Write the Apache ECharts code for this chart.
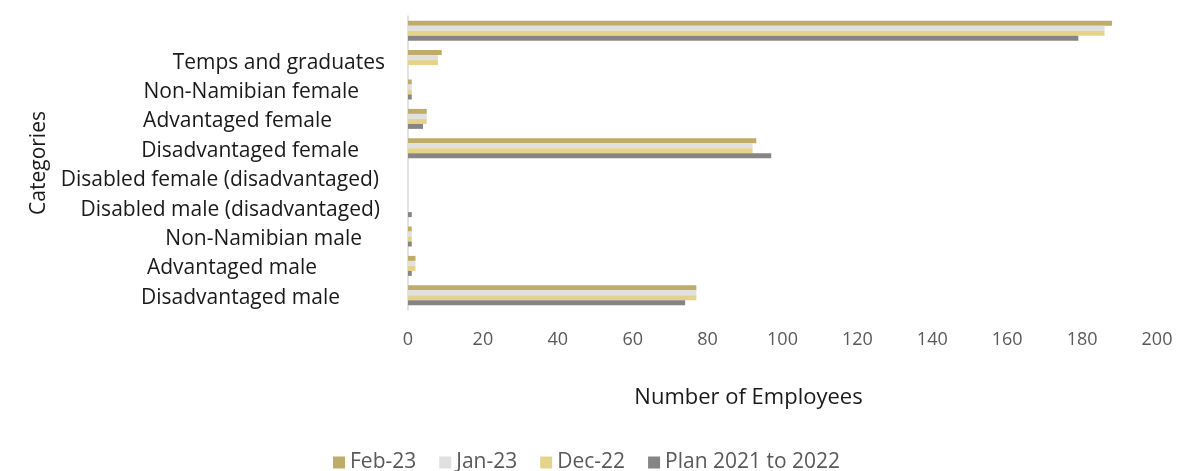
<!DOCTYPE html>
<html>
<head>
<meta charset="utf-8">
<title>Employees by category</title>
<script src="https://cdn.jsdelivr.net/npm/echarts@6/dist/echarts.min.js"></script>
<style>
  html, body { margin: 0; padding: 0; background: #fff; }
  #chart { width: 1177px; height: 471px; }
</style>
</head>
<body>
<div id="chart"></div>
<script>
// Categories, bottom to top (the top row is the overall total, unlabelled)
const categories = [
  'Disadvantaged male',
  'Advantaged male',
  'Non-Namibian male',
  'Disabled male (disadvantaged)',
  'Disabled female (disadvantaged)',
  'Disadvantaged female',
  'Advantaged female',
  'Non-Namibian female',
  'Temps and graduates',
  ''
];

const feb23 = [77, 2, 1, 0, 0, 93, 5, 1, 9, 188];
const jan23 = [77, 2, 1, 0, 0, 92, 5, 1, 8, 186];
const dec22 = [77, 2, 1, 0, 0, 92, 5, 1, 8, 186];
const plan  = [74, 1, 1, 1, 0, 97, 4, 1, 0, 179];

const xTicks = { min: 0, max: 200, interval: 20 };

// Right-hand gap between each category label and the axis line
const labelInset = [68, 91, 46, 28, 29, 49, 76, 49, 23, 0];

const FONT = '"Open Sans", sans-serif';
const colors = {
  feb: '#BEAC68',
  jan: '#E0E0E0',
  dec: '#E6D38B',
  plan: '#878484'
};

const rich = {};
labelInset.forEach((gap, i) => {
  rich['l' + i] = {
    padding: [5, gap, 0, 0],
    fontFamily: FONT,
    fontSize: 21,
    color: '#1a1a1a'
  };
});

const chart = echarts.init(document.getElementById('chart'), null, { renderer: 'canvas' });

const barSeries = (name, data, color) => ({
  name,
  type: 'bar',
  data,
  itemStyle: { color },
  barGap: '0%',
  barCategoryGap: '32%',
  emphasis: { disabled: true }
});

chart.setOption({
  animation: false,
  textStyle: { fontFamily: FONT },
  grid: { left: 408, right: 20, top: 16, bottom: 161, containLabel: false },
  legend: {
    data: ['Feb-23', 'Jan-23', 'Dec-22', 'Plan 2021 to 2022'],
    left: 328,
    top: 447,
    icon: 'rect',
    itemWidth: 12,
    itemHeight: 12,
    itemGap: 23,
    textStyle: { fontFamily: FONT, fontSize: 21, color: '#595959' }
  },
  xAxis: {
    type: 'value',
    min: xTicks.min,
    max: xTicks.max,
    interval: xTicks.interval,
    name: 'Number of Employees',
    nameLocation: 'middle',
    nameGap: 77,
    nameTextStyle: { fontFamily: FONT, fontSize: 22, color: '#1a1a1a', padding: [0, 68, 0, 0] },
    axisLine: { show: false },
    axisTick: { show: false },
    splitLine: { show: false },
    axisLabel: { margin: 21, fontFamily: FONT, fontSize: 18, color: '#595959' }
  },
  yAxis: {
    type: 'category',
    data: categories,
    name: 'Categories',
    nameLocation: 'middle',
    nameGap: 358,
    nameRotate: 90,
    nameTextStyle: { fontFamily: FONT, fontSize: 21, color: '#1a1a1a' },
    axisLine: { show: true, lineStyle: { color: '#D9D9D9', width: 1.5 } },
    axisTick: { show: false },
    splitLine: { show: false },
    axisLabel: {
      margin: 0,
      interval: 0,
      formatter: (value, index) => value ? '{l' + index + '|' + value + '}' : '',
      rich
    }
  },
  series: [
    barSeries('Feb-23', feb23, colors.feb),
    barSeries('Jan-23', jan23, colors.jan),
    barSeries('Dec-22', dec22, colors.dec),
    barSeries('Plan 2021 to 2022', plan, colors.plan)
  ]
});
</script>
</body>
</html>
